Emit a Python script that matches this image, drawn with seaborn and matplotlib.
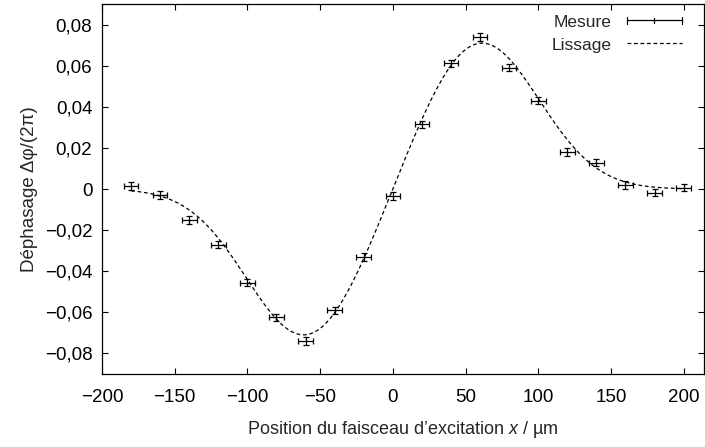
import numpy as np
import pandas as pd
import matplotlib
matplotlib.use("Agg")
import matplotlib.pyplot as plt
from matplotlib.ticker import FixedLocator, FuncFormatter
from matplotlib.lines import Line2D
from matplotlib.legend_handler import HandlerBase
import seaborn as sns

# Measured phase shift versus excitation beam position
position_um = [-180, -160, -140, -120, -100, -80, -60, -40, -20, 0,
               20, 40, 60, 80, 100, 120, 140, 160, 180, 200]
dephasage = [0.0015, -0.0030, -0.0150, -0.0270, -0.0455, -0.0625, -0.0740,
             -0.0590, -0.0330, -0.0035, 0.0315, 0.0612, 0.0740, 0.0590,
             0.0430, 0.0180, 0.0128, 0.0020, -0.0018, 0.0006]
err_x_um = [5.0] * len(position_um)
err_phase = [0.0018] * len(position_um)

x_ticks = [-200, -150, -100, -50, 0, 50, 100, 150, 200]
y_ticks = [-0.08, -0.06, -0.04, -0.02, 0.0, 0.02, 0.04, 0.06, 0.08]

sns.set_theme(style="ticks")
plt.rcParams["font.family"] = ["Liberation Sans", "DejaVu Sans"]
plt.rcParams["mathtext.fontset"] = "custom"
plt.rcParams["mathtext.it"] = "Liberation Sans:italic"
plt.rcParams["mathtext.rm"] = "Liberation Sans"

df = pd.DataFrame({"x": position_um, "y": dephasage,
                   "ex": err_x_um, "ey": err_phase})

# Least-squares smoothing: difference of two shifted Gaussians
xs = df["x"].to_numpy(float)
ys = df["y"].to_numpy(float)
best = None
for d in np.arange(0.5, 80.0, 0.5):
    for s in np.arange(20.0, 90.0, 0.5):
        g = np.exp(-(xs - d) ** 2 / (2 * s * s)) - np.exp(-(xs + d) ** 2 / (2 * s * s))
        g = g / d
        amp = float(g @ ys) / float(g @ g)
        res = float(((ys - amp * g) ** 2).sum())
        if best is None or res < best[0]:
            best = (res, d, s, amp)
_, d_fit, s_fit, a_fit = best
xf = np.linspace(min(position_um), max(position_um), 400)
yf = a_fit * (np.exp(-(xf - d_fit) ** 2 / (2 * s_fit ** 2))
              - np.exp(-(xf + d_fit) ** 2 / (2 * s_fit ** 2))) / d_fit
fit_df = pd.DataFrame({"x": xf, "y": yf})


class ErrorKey(HandlerBase):
    """Legend key: horizontal bar with end caps and a small centre tick."""

    def create_artists(self, legend, orig_handle, xdescent, ydescent,
                       width, height, fontsize, trans):
        y = height / 2 - ydescent
        x0, x1 = -xdescent, width - xdescent
        xm = (x0 + x1) / 2
        cap = height * 0.28
        segs = [([x0, x1], [y, y]),
                ([x0, x0], [y - cap, y + cap]),
                ([x1, x1], [y - cap, y + cap]),
                ([xm, xm], [y - cap * 0.7, y + cap * 0.7])]
        arts = []
        for sx, sy in segs:
            ln = Line2D(sx, sy, color="black", lw=0.9)
            ln.set_transform(trans)
            arts.append(ln)
        return arts


fig = plt.figure(figsize=(7.05, 4.47), dpi=100)
ax = fig.add_axes([102 / 705, 73 / 447, 602 / 705, 370 / 447])

meas = ax.errorbar(df["x"], df["y"], xerr=df["ex"], yerr=df["ey"], fmt="none",
                   ecolor="black", elinewidth=0.9, capsize=2.4, capthick=0.9,
                   zorder=3)
sns.lineplot(data=fit_df, x="x", y="y", ax=ax, color="black", lw=0.9,
             dashes=False, zorder=2)
fit_line = ax.lines[-1]
fit_line.set_dashes([3.0, 2.2])

ax.set_xlim(-200, 214)
ax.set_ylim(-0.09, 0.09)
ax.xaxis.set_major_locator(FixedLocator(x_ticks))
ax.yaxis.set_major_locator(FixedLocator(y_ticks))


def fmt_x(v, _):
    return f"{int(round(v))}".replace("-", "\u2212")


def fmt_y(v, _):
    if abs(v) < 1e-12:
        return "0"
    return f"{v:.2f}".replace(".", ",").replace("-", "\u2212")


ax.xaxis.set_major_formatter(FuncFormatter(fmt_x))
ax.yaxis.set_major_formatter(FuncFormatter(fmt_y))
ax.tick_params(direction="in", length=4.3, width=0.8, labelsize=13.5,
               top=True, right=True, colors="black")
ax.tick_params(axis="x", pad=10.5)
ax.tick_params(axis="y", pad=7)
for sp in ax.spines.values():
    sp.set_visible(True)
    sp.set_linewidth(0.9)
    sp.set_color("black")

ax.set_xlabel("Position du faisceau d\u2019excitation $x$ / \u00b5m",
              fontsize=13, labelpad=10)
ax.set_ylabel("D\u00e9phasage \u0394\u03c6/(2\u03c0)", fontsize=13.5, labelpad=5)

ax.legend([meas, fit_line], ["Mesure", "Lissage"],
          handler_map={type(meas): ErrorKey()},
          loc="upper right", frameon=False, markerfirst=False,
          fontsize=12.5, handlelength=3.2, handletextpad=0.85,
          labelspacing=0.45, borderaxespad=0.2,
          bbox_to_anchor=(0.981, 1.0))

fig.savefig("out.png", dpi=100)
